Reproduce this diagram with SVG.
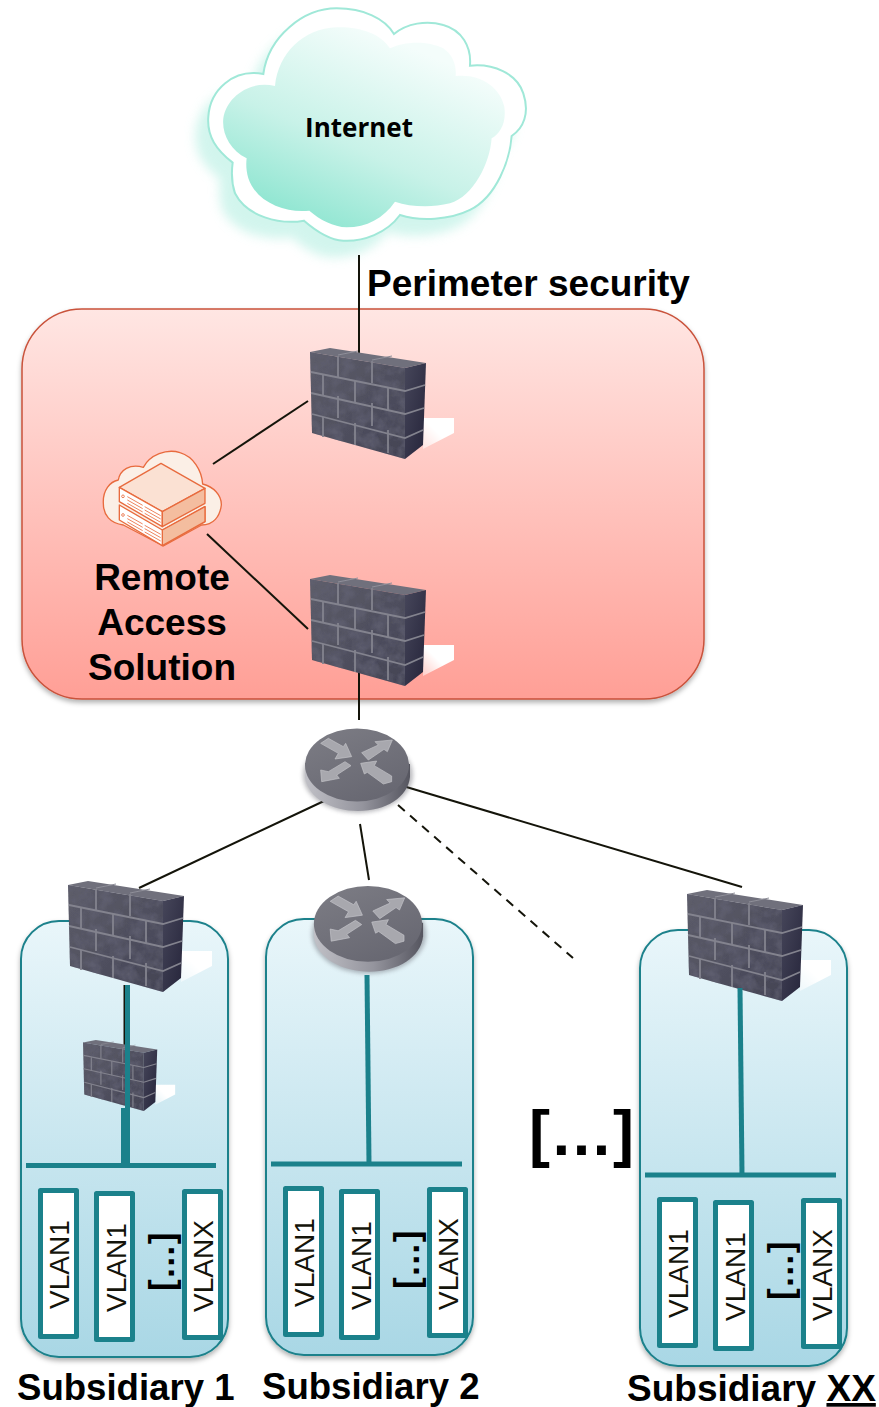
<svg xmlns="http://www.w3.org/2000/svg" xmlns:xlink="http://www.w3.org/1999/xlink" width="879" height="1407" viewBox="0 0 879 1407">
<style>
.lbl{font-family:"Liberation Sans",Arial,sans-serif;font-weight:700;font-size:37px;fill:#000}
.cap{font-size:36.600px}
.vt{font-family:"Liberation Sans",Arial,sans-serif;font-size:28px;fill:#14140a}
.vr{fill:#fff;stroke:#1b818b;stroke-width:5;stroke-linejoin:round}
.blk{stroke:#14140a;stroke-width:2;fill:none}
.teal{stroke:#1b818b;fill:none}
.sub{stroke:#1b818b;stroke-width:2;fill:url(#subG);filter:url(#softS)}
.mort{stroke:#83838e;stroke-width:1.8;fill:none}
.ar{fill:#a8a8ae;stroke:#c4c4c9;stroke-width:2}
</style>
<defs>
<linearGradient id="redG" x1="0" y1="0" x2="0" y2="1"><stop offset="0" stop-color="#ffe6e3"/><stop offset="1" stop-color="#ff9f96"/></linearGradient>
<linearGradient id="subG" x1="0" y1="0" x2="0" y2="1"><stop offset="0" stop-color="#e9f6fa"/><stop offset="1" stop-color="#a9d7e5"/></linearGradient>
<linearGradient id="cloudG" x1="0.2" y1="0.95" x2="0.7" y2="0.12"><stop offset="0" stop-color="#8ce5d0"/><stop offset=".45" stop-color="#c8f2e8"/><stop offset="1" stop-color="#f4fdfb"/></linearGradient>
<linearGradient id="frontG" x1="0" y1="0" x2="1" y2="1"><stop offset="0" stop-color="#5e5e6a"/><stop offset="1" stop-color="#434354"/></linearGradient>
<linearGradient id="sideG" x1="0" y1="0" x2="1" y2="1"><stop offset="0" stop-color="#46465a"/><stop offset="1" stop-color="#25243a"/></linearGradient>
<linearGradient id="shG" x1="0" y1="1" x2="1" y2="0"><stop offset="0" stop-color="#fff" stop-opacity=".45"/><stop offset=".5" stop-color="#fff"/></linearGradient>
<linearGradient id="rtTop" x1="0" y1="0" x2="0.6" y2="1"><stop offset="0" stop-color="#7d7d85"/><stop offset="1" stop-color="#686872"/></linearGradient>
<linearGradient id="rtBase" x1="0" y1="0" x2="1" y2="0"><stop offset="0" stop-color="#c0c0c6"/><stop offset=".55" stop-color="#94949d"/><stop offset="1" stop-color="#55555f"/></linearGradient>
<filter id="softS" x="-10%" y="-10%" width="120%" height="120%"><feDropShadow dx="0" dy="3" stdDeviation="2.5" flood-color="#000" flood-opacity=".3"/></filter>
<filter id="blur" x="-20%" y="-20%" width="140%" height="140%"><feGaussianBlur stdDeviation="16"/></filter>
<filter id="blurR" x="-20%" y="-20%" width="140%" height="140%"><feGaussianBlur stdDeviation="2"/></filter>
<filter id="mottle" x="0" y="0" width="100%" height="100%"><feTurbulence type="fractalNoise" baseFrequency=".09" numOctaves="3" seed="4"/><feColorMatrix values="0 0 0 0 .12  0 0 0 0 .12  0 0 0 0 .17  1.6 0 0 0 -.55"/><feComposite in2="SourceGraphic" operator="in"/><feMerge><feMergeNode in="SourceGraphic"/><feMergeNode/></feMerge></filter>
<g id="fw">
<polygon points="113,70 144,70 144,85 113,101" fill="url(#shG)"/>
<polygon points="0,4 20,0 116,15 95,20" fill="#70707c"/>
<polygon points="0,4 95,20 95,111 2,85" fill="url(#frontG)" filter="url(#mottle)"/>
<polygon points="95,20 116,15 113,97 95,111" fill="url(#sideG)"/>
<path class="mort" d="M1,24 L95,43 L115,37 M1,45 L95,66 L114,60 M2,66 L95,90 L113,82"/>
<path class="mort" d="M28,8 V29 M62,13 V35 M13,27 V48 M45,33 V55 M78,40 V62 M28,48 V70 M62,55 V78 M13,69 V89 M45,75 V97 M78,82 V105"/>
<path d="M28,7 L48,3 M62,12 L82,8" stroke="#8f8f99" stroke-width="1" fill="none"/>
</g>
<g id="rt">
<ellipse cx="0" cy="6" rx="55" ry="38" fill="#55555f" opacity=".4" filter="url(#blurR)"/>
<path d="M-53,-5 V8 C-50,30 -25,42 0,42 C28,42 50,28 52,8 V-5 Z" fill="url(#rtBase)"/>
<ellipse cx="-1" cy="-4" rx="52" ry="36.500" fill="url(#rtTop)"/>
<g transform="scale(.3333) translate(-234,-207)">
<polygon class="ar" points="122,130 145,115 190,140 197,130 215,170 165,177 175,160"/>
<polygon class="ar" points="245,158 295,135 285,125 337,120 322,155 312,148 265,180"/>
<polygon class="ar" points="195,185 213,197 170,225 178,235 125,245 122,210 145,215"/>
<polygon class="ar" points="242,190 290,183 283,197 335,228 335,245 310,252 262,217 253,222"/>
</g>
</g>
<g id="vl">
<rect class="vr" x="40.500" y="1190.500" width="36" height="146"/>
<rect class="vr" x="96.500" y="1193.500" width="36" height="146"/>
<rect class="vr" x="184.500" y="1191.500" width="36" height="146"/>
<text class="vt" transform="translate(69,1309) rotate(-90)">VLAN1</text>
<text class="vt" transform="translate(126,1312) rotate(-90)">VLAN1</text>
<text class="vt" transform="translate(213,1312) rotate(-90)">VLANX</text>
<text class="lbl" style="font-size:35px" transform="translate(174,1291) rotate(-90)">[…]</text>
</g>
</defs>

<rect width="879" height="1407" fill="#fff"/>

<g id="internet">
<g transform="translate(180,0) scale(.3333)">
<path d="M250 222 C265 110 370 25 470 25 C550 25 615 55 642 102 C680 70 740 60 790 75 C845 90 875 140 870 197 C940 190 1010 220 1030 280 C1050 340 1030 385 995 408 C990 480 950 590 870 630 C810 660 720 665 660 645 C620 700 550 725 490 722 C450 720 410 695 372 662 C300 675 200 650 165 580 C155 550 155 510 158 488 C110 450 80 410 85 350 C90 270 160 205 250 222Z" fill="#b5efe2" opacity=".6" filter="url(#blur)" transform="translate(-38,50)"/>
<path d="M250 222 C265 110 370 25 470 25 C550 25 615 55 642 102 C680 70 740 60 790 75 C845 90 875 140 870 197 C940 190 1010 220 1030 280 C1050 340 1030 385 995 408 C990 480 950 590 870 630 C810 660 720 665 660 645 C620 700 550 725 490 722 C450 720 410 695 372 662 C300 675 200 650 165 580 C155 550 155 510 158 488 C110 450 80 410 85 350 C90 270 160 205 250 222Z" fill="#fff" stroke="#a0e8d8" stroke-width="6"/>
<path d="M285 258 C295 160 370 85 470 82 C540 80 600 100 630 145 C670 125 740 120 790 145 C820 165 830 200 827 228 C900 220 960 260 973 320 C980 370 960 400 935 415 C930 490 880 590 810 610 C750 625 690 620 645 605 C610 655 560 682 500 682 C460 680 420 660 388 632 C320 640 230 610 205 535 C198 510 198 490 200 475 C150 450 125 400 130 355 C140 290 210 240 285 258Z" fill="url(#cloudG)"/>
</g>
<text x="359" y="137" text-anchor="middle" style="font-family:'Open Sans',sans-serif;font-weight:700;font-size:26px" fill="#000">Internet</text>
</g>

<g id="perimeter-zone">
<rect x="22" y="309" width="682" height="390" rx="60" fill="url(#redG)" stroke="#c9523b" stroke-width="1.500" filter="url(#softS)"/>
<text class="lbl" x="367" y="296">Perimeter security</text>
</g>

<g id="sub1-box"><rect class="sub" x="21" y="921" width="207" height="436" rx="38"/></g>
<g id="sub2-box"><rect class="sub" x="266" y="919" width="207" height="436" rx="38"/></g>
<g id="subx-box"><rect class="sub" x="640" y="930" width="207" height="436" rx="38"/></g>

<g id="connectors">
<line class="blk" x1="359" y1="255" x2="359" y2="354"/>
<line class="blk" x1="213" y1="464" x2="308" y2="401"/>
<line class="blk" x1="207" y1="534" x2="308" y2="629"/>
<line class="blk" x1="359" y1="672" x2="359" y2="720"/>
<line class="blk" x1="324" y1="801" x2="139" y2="888"/>
<line class="blk" x1="360" y1="824" x2="369" y2="880"/>
<line class="blk" x1="403" y1="786" x2="742" y2="887"/>
<line class="blk" x1="398" y1="805" x2="573" y2="958" stroke-dasharray="9 7"/>
<line class="blk" x1="124.500" y1="985" x2="124.500" y2="1045"/>
</g>

<g id="firewall-1"><use xlink:href="#fw" href="#fw" transform="translate(310,348)"/></g>
<g id="firewall-2"><use xlink:href="#fw" href="#fw" transform="translate(310,575)"/></g>
<g id="firewall-3"><use xlink:href="#fw" href="#fw" transform="translate(68,881)"/></g>
<g id="firewall-4"><use xlink:href="#fw" href="#fw" transform="translate(83,1040) scale(.64)"/></g>
<g id="firewall-5"><use xlink:href="#fw" href="#fw" transform="translate(687,890)"/></g>

<g id="router-1"><use xlink:href="#rt" href="#rt" transform="translate(358,769)"/></g>
<g id="router-2"><use xlink:href="#rt" href="#rt" transform="translate(369,928) scale(1.04)"/></g>

<g id="remote-access">
<g transform="translate(80,330) scale(.3333)" stroke="#e86b3e" stroke-width="4" stroke-linejoin="round">
<path d="M70 520 C68 480 90 455 115 450 C120 420 150 400 190 412 C210 375 260 355 300 368 C340 380 365 420 368 462 C400 470 425 495 424 525 C420 560 400 585 365 585 L250 648 L130 585 C90 580 70 555 70 520Z" fill="#fbefe6"/>
<polygon points="118,525 247,600 375,530 375,575 247,647 118,570" fill="#fff"/>
<polygon points="247,600 375,530 375,575 247,647" fill="#f4bd9f"/>
<polygon points="118,472 243,400 375,475 247,545" fill="#fbe1d3"/>
<polygon points="118,472 247,545 247,590 118,515" fill="#fff"/>
<polygon points="247,545 375,475 375,520 247,590" fill="#f4bd9f"/>
<g stroke-width="2.500" fill="none">
<circle cx="129" cy="499" r="4"/><circle cx="129" cy="555" r="4"/>
<path d="M142,500 L188,526 M142,510 L188,536 M142,520 L188,546 M194,530 L242,557 M194,540 L242,567 M194,550 L242,577"/>
<path d="M142,556 L188,582 M142,566 L188,592 M142,576 L188,602 M194,586 L242,613 M194,596 L242,623 M194,606 L242,633"/>
</g>
</g>
<text class="lbl" x="162" y="590" text-anchor="middle">Remote</text>
<text class="lbl" x="162" y="635" text-anchor="middle">Access</text>
<text class="lbl" x="162" y="680" text-anchor="middle">Solution</text>
</g>

<g id="subsidiary-1">
<line class="teal" stroke-width="5" x1="127.500" y1="985" x2="127.500" y2="1165"/>
<line class="teal" stroke-width="6" x1="124" y1="1108" x2="124" y2="1164"/>
<line class="teal" stroke-width="5" x1="26" y1="1165.500" x2="216" y2="1165.500"/>
<use xlink:href="#vl" href="#vl"/>
<text class="lbl cap" x="17" y="1400">Subsidiary 1</text>
</g>
<g id="subsidiary-2">
<line class="teal" stroke-width="5" x1="367" y1="975" x2="369" y2="1164"/>
<line class="teal" stroke-width="5" x1="271" y1="1164" x2="462" y2="1164"/>
<use xlink:href="#vl" href="#vl" transform="translate(245,-2)"/>
<text class="lbl cap" x="262" y="1399">Subsidiary 2</text>
</g>
<g id="subsidiary-xx">
<line class="teal" stroke-width="5" x1="740" y1="988" x2="742" y2="1174"/>
<line class="teal" stroke-width="5" x1="645" y1="1175" x2="836" y2="1175"/>
<use xlink:href="#vl" href="#vl" transform="translate(619,9)"/>
<text class="lbl" x="627" y="1401">Subsidiary <tspan text-decoration="underline">XX</tspan></text>
</g>
<g id="ellipsis"><text class="lbl" style="font-size:63px" x="529" y="1155">[…]</text></g>
</svg>
